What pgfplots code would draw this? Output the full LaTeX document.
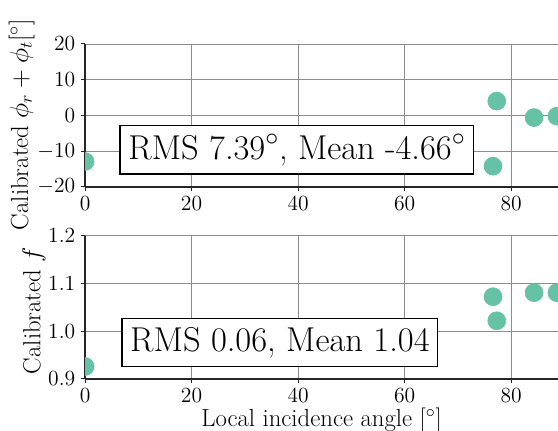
\documentclass[border=0pt]{standalone}
\usepackage{pgfplots}
\pgfplotsset{compat=1.18}
\usetikzlibrary{calc}
\definecolor{teal2}{RGB}{102,194,165}

\pgfplotsset{
  calib/.style={
    scale only axis,
    width=315.3pt, height=95.3pt,
    xmin=0, xmax=88.8,
    axis lines=left,
    axis line style={black!85, line width=1pt, -},
    grid=major,
    grid style={black!45, line width=0.6pt},
    tick align=outside,
    major tick length=3pt,
    tick style={black!85, line width=0.7pt},
    xtick={0,20,40,60,80},
    ticklabel style={font=\fontsize{14.5}{17}\selectfont},
    label style={font=\fontsize{16.5}{19}\selectfont},
    clip marker paths=true,
  },
  dots/.style={only marks, mark=*, mark size=6pt, color=teal2,
    mark options={draw=teal2, fill=teal2}},
}
\tikzset{
  rmsbox/.style={draw=black, fill=white, line width=0.8pt, inner sep=5.5pt,
    font=\fontsize{23}{27}\selectfont},
}

\begin{document}
\begin{tikzpicture}
\begin{axis}[
  calib,
  name=top,
  ymin=-20, ymax=20,
  ytick={-20,-10,0,10,20},
  ylabel={Calibrated $\phi_r + \phi_t[^\circ]$},
  ylabel style={yshift=-5pt, xshift=-6pt},
]
\addplot[dots] coordinates {
  (0,-12.9) (76.6,-14.2) (77.3,4.0) (84.3,-0.6) (88.6,-0.2)
};
\node[rmsbox] at (axis description cs:0.448,0.259)
  {RMS 7.39$^\circ$, Mean -4.66$^\circ$};
\end{axis}

\begin{axis}[
  calib,
  name=bot,
  at={($(top.south west)+(0,-128pt)$)},
  ymin=0.9, ymax=1.2,
  ytick={0.9,1.0,1.1,1.2},
  yticklabel style={/pgf/number format/.cd, fixed, fixed zerofill, precision=1},
  ylabel={Calibrated $f$},
  ylabel style={yshift=-5pt, xshift=-2pt},
  xlabel={Local incidence angle [$^\circ$]},
  xlabel style={yshift=3pt},
]
\addplot[dots] coordinates {
  (0,0.926) (76.6,1.0725) (77.3,1.022) (84.3,1.081) (88.6,1.081)
};
\node[rmsbox] at (axis description cs:0.412,0.255)
  {RMS 0.06, Mean 1.04};
\end{axis}

\pgfresetboundingbox
\path[use as bounding box] ($(top.south west)+(-56.7pt,-162.1pt)$)
  rectangle ($(top.south west)+(315.3pt,124.6pt)$);
\end{tikzpicture}
\end{document}
